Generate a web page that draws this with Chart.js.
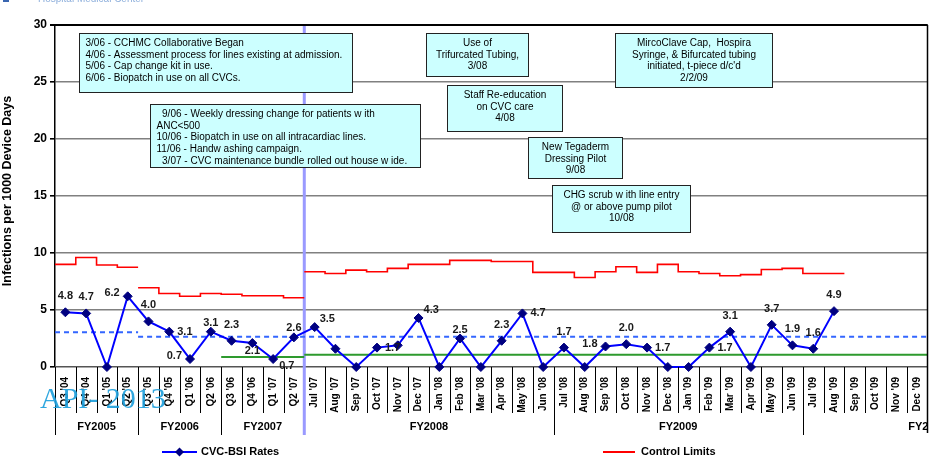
<!DOCTYPE html>
<html>
<head>
<meta charset="utf-8">
<title>CVC-BSI Rates</title>
<script src="https://cdn.jsdelivr.net/npm/chart.js@4.4.0/dist/chart.umd.min.js"></script>
<style>
  html, body { margin: 0; padding: 0; background: #fff; overflow: hidden; }
  #wrap { position: relative; width: 930px; height: 463px; overflow: hidden; }
  #chart { display: block; }
</style>
</head>
<body>
<div id="wrap"><canvas id="chart" width="933" height="463"></canvas></div>
<script>
// ---- categories: quarterly through Q2 '07, monthly afterwards ----
const periods = [
  "Q3 '04", "Q4 '04", "Q1 '05", "Q2 '05",
  "Q3 '05", "Q4 '05", "Q1 '06", "Q2 '06",
  "Q3 '06", "Q4 '06", "Q1 '07", "Q2 '07",
  "Jul '07", "Aug '07", "Sep '07", "Oct '07", "Nov '07", "Dec '07",
  "Jan '08", "Feb '08", "Mar '08", "Apr '08", "May '08", "Jun '08",
  "Jul '08", "Aug '08", "Sep '08", "Oct '08", "Nov '08", "Dec '08",
  "Jan '09", "Feb '09", "Mar '09", "Apr '09", "May '09", "Jun '09",
  "Jul '09", "Aug '09", "Sep '09", "Oct '09", "Nov '09", "Dec '09"
];

// fiscal-year groups under the period labels
const fiscalYears     = ["FY2005", "FY2006", "FY2007", "FY2008", "FY2009", "FY2010"];
const fiscalYearStart = [0, 4, 8, 12, 24, 36];
const fiscalYearSpan  = [4, 4, 4, 12, 12, 12];

// infections per 1000 device days
const bsiRate = [
  4.8, 4.7, 0, 6.2,
  4.0, 3.1, 0.7, 3.1,
  2.3, 2.1, 0.7, 2.6,
  3.5, 1.6, 0, 1.7, 1.9, 4.3,
  0, 2.5, 0, 2.3, 4.7, 0,
  1.7, 0, 1.8, 2.0, 1.7, 0,
  0, 1.7, 3.1, 0, 3.7, 1.9,
  1.6, 4.9, null, null, null, null
];

// upper control limit per period
const controlLimit = [
  9.0, 9.6, 8.95, 8.75,
  6.95, 6.45, 6.2, 6.45,
  6.38, 6.25, 6.25, 6.08,
  8.35, 8.2, 8.5, 8.35, 8.65, 9.0,
  9.0, 9.35, 9.35, 9.25, 9.25, 8.3,
  8.3, 7.85, 8.35, 8.8, 8.3, 9.0,
  8.35, 8.2, 8.0, 8.1, 8.55, 8.65,
  8.2, 8.2, null, null, null, null
];
const controlLimitBreaks = [4, 12];

// process mean (dashed) per period
const centerLine = [
  3.05, 3.05, 3.05, 3.05,
  2.65, 2.65, 2.65, 2.65, 2.65, 2.65, 2.65, 2.65,
  2.65, 2.65, 2.65, 2.65, 2.65, 2.65, 2.65, 2.65, 2.65, 2.65, 2.65, 2.65,
  2.65, 2.65, 2.65, 2.65, 2.65, 2.65, 2.65, 2.65, 2.65, 2.65, 2.65, 2.65,
  2.65, 2.65, 2.65, 2.65, 2.65, 2.65
];
const centerLineBreaks = [4];

// goal line per period
const goalLine = [
  null, null, null, null, null, null, null, null,
  0.87, 0.87, 0.87, 0.87,
  1.07, 1.07, 1.07, 1.07, 1.07, 1.07, 1.07, 1.07, 1.07, 1.07, 1.07, 1.07,
  1.07, 1.07, 1.07, 1.07, 1.07, 1.07, 1.07, 1.07, 1.07, 1.07, 1.07, 1.07,
  1.07, 1.07, 1.07, 1.07, 1.07, 1.07
];
const goalLineBreaks = [12];

// where each value label sits relative to its marker
const labelPlacement = [
  'above', 'above', null, 'left',
  'above', 'right', 'left', 'near',
  'above', 'below', 'belowRight', 'near',
  'upRight', null, null, 'right', null, 'upRight',
  null, 'near', null, 'above', 'right', null,
  'above', null, 'left', 'above', 'right', null,
  null, 'right', 'above', null, 'above', 'above',
  'above', 'above', null, null, null, null
];

// period where the collaborative phase begins (category edge)
const phaseStart = 12;

// intervention notes, placed in axis units (x: category edges, y: rate)
const notes = [
  { x0: 1.15, x1: 14.28, y0: 29.3, y1: 24.12, align: 'left', lines: [
    "3/06 - CCHMC Collaborative Began",
    "4/06 - Assessment process for lines existing at admission.",
    "5/06 - Cap change kit in use.",
    "6/06 - Biopatch in use on all CVCs."
  ]},
  { x0: 4.57, x1: 17.55, y0: 23.05, y1: 17.54, align: 'left', lines: [
    "  9/06 - Weekly dressing change for patients w ith",
    "ANC<500",
    "10/06 - Biopatch in use on all intracardiac lines.",
    "11/06 - Handw ashing campaign.",
    "  3/07 - CVC maintenance bundle rolled out house w ide."
  ]},
  { x0: 17.88, x1: 22.79, y0: 29.3, y1: 25.53, align: 'center', lines: [
    "Use of", "Trifurcated Tubing,", "3/08"
  ]},
  { x0: 18.89, x1: 24.42, y0: 24.74, y1: 20.7, align: 'center', lines: [
    "Staff Re-education", "on CVC care", "4/08"
  ]},
  { x0: 22.79, x1: 27.31, y0: 20.18, y1: 16.58, align: 'center', lines: [
    "New Tegaderm", "Dressing Pilot", "9/08"
  ]},
  { x0: 23.94, x1: 30.58, y0: 15.96, y1: 11.84, align: 'center', lines: [
    "CHG scrub w ith line entry", "@ or above pump pilot", "10/08"
  ]},
  { x0: 26.97, x1: 34.52, y0: 29.3, y1: 24.56, align: 'center', lines: [
    "MircoClave Cap,  Hospira", "Syringe, & Bifurcated tubing", "initiated, t-piece d/c'd", "2/2/09"
  ]}
];

const SANS = '"Liberation Sans", Arial, Helvetica, sans-serif';
const SERIF = '"Liberation Serif", "Times New Roman", serif';

// Turn per-period values into edge-to-edge step points on the linear edge axis.
function stepPoints(values, breaks) {
  const pts = [];
  let open = false;
  for (let i = 0; i < values.length; i++) {
    const v = values[i];
    if (open && (v === null || breaks.includes(i))) {
      pts.push({ x: i, y: values[i - 1] });
      pts.push({ x: i, y: null });
      open = false;
    }
    if (v !== null) { pts.push({ x: i, y: v }); open = true; }
  }
  if (open) pts.push({ x: values.length, y: values[values.length - 1] });
  return pts;
}

function diamond(ctx, x, y, r) {
  ctx.beginPath();
  ctx.moveTo(x, y - r); ctx.lineTo(x + r, y); ctx.lineTo(x, y + r); ctx.lineTo(x - r, y);
  ctx.closePath();
}

const decor = {
  id: 'decor',
  beforeDatasetsDraw(chart) {
    const { ctx, chartArea: a, scales: { x2 } } = chart;
    ctx.save();
    // phase divider
    const px = x2.getPixelForValue(phaseStart);
    ctx.strokeStyle = '#9a9aff';
    ctx.lineWidth = 3;
    ctx.beginPath(); ctx.moveTo(px, a.top); ctx.lineTo(px, a.bottom + 68); ctx.stroke();
    ctx.restore();
  },
  afterDatasetsDraw(chart) {
    const { ctx, chartArea: a, scales: { x2, y } } = chart;
    ctx.save();
    // value labels
    const meta = chart.getDatasetMeta(0);
    ctx.font = 'bold 11px ' + SANS;
    ctx.fillStyle = '#1a1a1a';
    ctx.textBaseline = 'middle';
    meta.data.forEach((pt, i) => {
      const pos = labelPlacement[i];
      if (!pos || bsiRate[i] === null) return;
      let lx = pt.x, ly = pt.y, align = 'center';
      switch (pos) {
        case 'above': ly -= 16; break;
        case 'near': ly -= 9; break;
        case 'below': ly += 8; break;
        case 'left': lx -= 8; ly -= 3; align = 'right'; break;
        case 'right': lx += 8; align = 'left'; break;
        case 'belowRight': lx += 6; ly += 7; align = 'left'; break;
        case 'upRight': lx += 5; ly -= 8; align = 'left'; break;
      }
      ctx.textAlign = align;
      ctx.fillText(bsiRate[i].toFixed(1), lx, ly);
    });

    // intervention notes
    notes.forEach(n => {
      const l = Math.round(x2.getPixelForValue(n.x0)) + 0.5;
      const r = Math.round(x2.getPixelForValue(n.x1)) + 0.5;
      const t = Math.round(y.getPixelForValue(n.y0)) + 0.5;
      const b = Math.round(y.getPixelForValue(n.y1)) + 0.5;
      ctx.fillStyle = '#ccffff';
      ctx.fillRect(l, t, r - l, b - t);
      ctx.strokeStyle = '#222';
      ctx.lineWidth = 1;
      ctx.strokeRect(l, t, r - l, b - t);
      ctx.fillStyle = '#000';
      ctx.font = '10px ' + SANS;
      ctx.textBaseline = 'middle';
      n.lines.forEach((s, k) => {
        const ty = t + 10 + k * 11.6;
        if (n.align === 'left') { ctx.textAlign = 'left'; ctx.fillText(s, l + 6, ty); }
        else { ctx.textAlign = 'center'; ctx.fillText(s, (l + r) / 2, ty); }
      });
    });
    ctx.restore();
  },
  afterDraw(chart) {
    const { ctx, chartArea: a, scales: { x2 } } = chart;
    ctx.save();

    // frame: top and right
    ctx.strokeStyle = '#000';
    ctx.lineWidth = 2;
    ctx.beginPath(); ctx.moveTo(a.left, a.top); ctx.lineTo(a.right, a.top); ctx.stroke();
    ctx.lineWidth = 1.5;
    ctx.beginPath(); ctx.moveTo(a.right, a.top); ctx.lineTo(a.right, a.bottom + 66); ctx.stroke();

    // dividers between period labels, longer at fiscal-year edges
    ctx.strokeStyle = '#000';
    ctx.lineWidth = 1;
    for (let k = 0; k < periods.length; k++) {
      const px = Math.round(x2.getPixelForValue(k)) + 0.5;
      const long = fiscalYearStart.includes(k);
      if (k === phaseStart) continue;
      ctx.beginPath(); ctx.moveTo(px, a.bottom); ctx.lineTo(px, a.bottom + (long ? 68 : 46)); ctx.stroke();
    }

    // fiscal-year labels
    ctx.save();
    ctx.beginPath(); ctx.rect(0, 0, a.right, chart.height); ctx.clip();
    ctx.font = 'bold 11px ' + SANS;
    ctx.fillStyle = '#000';
    ctx.textAlign = 'center';
    ctx.textBaseline = 'middle';
    fiscalYears.forEach((fy, i) => {
      const cx = x2.getPixelForValue(fiscalYearStart[i] + fiscalYearSpan[i] / 2);
      ctx.fillText(fy, cx, a.bottom + 60);
    });
    ctx.restore();

    // y-axis title
    ctx.save();
    ctx.translate(8, 191);
    ctx.rotate(-Math.PI / 2);
    ctx.font = 'bold 12.5px ' + SANS;
    ctx.fillStyle = '#000';
    ctx.textAlign = 'center';
    ctx.textBaseline = 'middle';
    ctx.fillText('Infections per 1000 Device Days', 0, 0);
    ctx.restore();

    // legend
    const ly = 452;
    ctx.lineWidth = 2;
    ctx.strokeStyle = '#0000ff';
    ctx.beginPath(); ctx.moveTo(162, ly); ctx.lineTo(197, ly); ctx.stroke();
    ctx.fillStyle = '#000080';
    diamond(ctx, 179.5, ly, 4.5); ctx.fill();
    ctx.strokeStyle = '#ff0000';
    ctx.beginPath(); ctx.moveTo(603, ly); ctx.lineTo(635, ly); ctx.stroke();
    ctx.font = 'bold 11px ' + SANS;
    ctx.fillStyle = '#000';
    ctx.textAlign = 'left';
    ctx.textBaseline = 'middle';
    ctx.fillText('CVC-BSI Rates', 201, ly);
    ctx.fillText('Control Limits', 641, ly);

    // page header strip
    ctx.fillStyle = '#8fb0dc';
    ctx.font = '10px ' + SANS;
    ctx.textBaseline = 'alphabetic';
    ctx.fillText('Hospital Medical Center', 38, 2);
    ctx.fillStyle = '#3a66b0';
    ctx.fillRect(3, 0, 6, 2);

    // watermark
    ctx.font = '30px ' + SERIF;
    ctx.fillStyle = 'rgba(30,160,220,0.92)';
    ctx.textAlign = 'left';
    ctx.textBaseline = 'alphabetic';
    ctx.fillText('API- 2013', 40, 408);

    ctx.restore();
  }
};

Chart.defaults.font.family = SANS;

new Chart(document.getElementById('chart'), {
  type: 'line',
  data: {
    labels: periods,
    datasets: [
      {
        label: 'CVC-BSI Rates',
        data: bsiRate,
        xAxisID: 'x',
        borderColor: '#0000ff',
        borderWidth: 2,
        pointStyle: 'rectRot',
        pointRadius: 4.5,
        pointBackgroundColor: '#000080',
        pointBorderColor: '#000080',
        pointBorderWidth: 1,
        spanGaps: false,
        clip: false,
        order: 0
      },
      {
        label: 'Control Limits',
        data: stepPoints(controlLimit, controlLimitBreaks),
        xAxisID: 'x2',
        borderColor: '#ff0000',
        borderWidth: 1.6,
        stepped: 'before',
        pointRadius: 0,
        spanGaps: false,
        order: 3
      },
      {
        label: 'Mean',
        data: stepPoints(centerLine, centerLineBreaks),
        xAxisID: 'x2',
        borderColor: '#3366ff',
        borderWidth: 2,
        borderDash: [5, 4],
        stepped: 'before',
        pointRadius: 0,
        spanGaps: false,
        order: 2
      },
      {
        label: 'Goal',
        data: stepPoints(goalLine, goalLineBreaks),
        xAxisID: 'x2',
        borderColor: '#2e9a2e',
        borderWidth: 2,
        stepped: 'before',
        pointRadius: 0,
        spanGaps: false,
        order: 1
      }
    ]
  },
  options: {
    responsive: false,
    animation: false,
    devicePixelRatio: 1,
    layout: { padding: { top: 25, right: 0, left: 0, bottom: 0 } },
    plugins: { legend: { display: false }, tooltip: { enabled: false } },
    scales: {
      x: {
        type: 'category',
        offset: true,
        grid: { display: false, drawTicks: false },
        border: { display: false },
        ticks: {
          autoSkip: false,
          minRotation: 90,
          maxRotation: 90,
          padding: 10,
          color: '#000',
          font: { size: 10, weight: 'bold', family: SANS }
        },
        afterFit(s) { s.height = 96; s.paddingLeft = 0; s.paddingRight = 0; }
      },
      x2: { type: 'linear', display: false, min: 0, max: 42 },
      y: {
        min: 0,
        max: 30,
        ticks: { stepSize: 5, color: '#000', padding: 3, font: { size: 12, weight: 'bold', family: SANS } },
        grid: {
          color: c => c.tick.value === 30 ? '#000' : (c.tick.value === 0 ? '#555' : '#808080'),
          lineWidth: c => c.tick.value === 30 ? 2 : 1.6,
          tickLength: 5,
          tickColor: '#000'
        },
        border: { color: '#000', width: 1.5 },
        afterFit(s) { s.width = 55; }
      }
    }
  },
  plugins: [decor]
});
</script>
</body>
</html>
